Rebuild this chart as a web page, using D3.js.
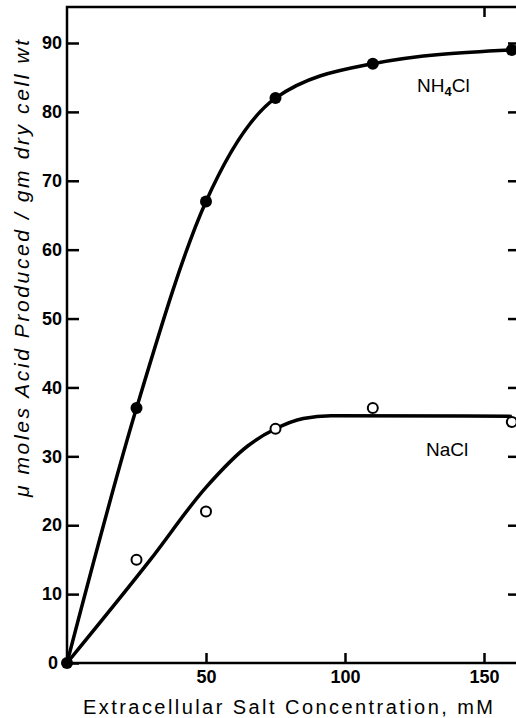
<!DOCTYPE html>
<html>
<head>
  <meta charset="utf-8">
  <title>Acid produced vs salt concentration</title>
  <style>
  body { margin: 0; background: #fff; }
  text { font-family: "Liberation Sans", "DejaVu Sans", sans-serif; fill: #000; }
  .tick text { font-weight: bold; font-size: 18px; font-family: "Liberation Sans", sans-serif; }
  .fit { fill: none; stroke: #000; stroke-width: 3.5; }
  </style>
</head>
<body>
  <div id="chart"></div>
  <script src="https://d3js.org/d3.v7.min.js"></script>
  <script>
    // measured points (x = mM, y = umoles acid / gm dry cell wt)
    var nh4clX = [0, 25, 50, 75, 110, 160];
    var nh4clY = [0, 37, 67, 82, 87, 89];
    var naclX = [0, 25, 50, 75, 110, 160];
    var naclY = [0, 15, 22, 34, 37, 35];

    // hand-drawn fit through the NaCl points
    var naclFitX = [0, 30, 50, 65, 75, 85, 95, 160];
    var naclFitY = [0, 15, 25.5, 31.5, 34, 35.5, 35.9, 35.8];

    var xTicks = [50, 100, 150];
    var yTicks = [0, 10, 20, 30, 40, 50, 60, 70, 80, 90];

    var width = 516, height = 718;

    var svg = d3.select("#chart").append("svg")
        .attr("width", width)
        .attr("height", height);

    var x = d3.scaleLinear().domain([0, 150]).range([67, 484]);
    var y = d3.scaleLinear().domain([0, 90]).range([663, 43]);

    var frameTop = 7, frameRight = 520;

    // frame
    svg.append("path")
        .attr("d", "M" + frameRight + "," + frameTop + "H" + x(0) + "V" + y(0) + "H" + frameRight)
        .attr("fill", "none")
        .attr("stroke", "#000")
        .attr("stroke-width", 2.5);

    // left axis, ticks point inward
    var gy = svg.append("g")
        .attr("transform", "translate(" + x(0) + ",0)")
        .call(d3.axisRight(y).tickValues(yTicks).tickSize(12).tickSizeOuter(0));
    gy.select(".domain").remove();
    gy.selectAll(".tick line").attr("stroke-width", 2.5);
    gy.selectAll(".tick text")
        .attr("x", -5)
        .attr("text-anchor", "end");
    gy.selectAll(".tick").filter(function(d) { return d === 0; })
        .select("text").attr("x", -9);

    // right side ticks
    var gr = svg.append("g")
        .attr("transform", "translate(" + frameRight + ",0)")
        .call(d3.axisLeft(y).tickValues(yTicks.slice(1)).tickSize(12).tickFormat(""));
    gr.select(".domain").remove();
    gr.selectAll(".tick line").attr("stroke-width", 2.5);

    // bottom axis, ticks pointing up
    var gx = svg.append("g")
        .attr("transform", "translate(0," + y(0) + ")")
        .call(d3.axisTop(x).tickValues(xTicks).tickSize(10));
    gx.select(".domain").remove();
    gx.selectAll(".tick line").attr("stroke-width", 2.5);
    gx.selectAll(".tick text")
        .attr("y", 20)
        .attr("dy", 0);

    // top tick at 150
    var gt = svg.append("g")
        .attr("transform", "translate(0," + frameTop + ")")
        .call(d3.axisBottom(x).tickValues([150]).tickSize(10).tickFormat(""));
    gt.select(".domain").remove();
    gt.selectAll(".tick line").attr("stroke-width", 2.5);

    var line = d3.line()
        .x(function(d) { return x(d[0]); })
        .y(function(d) { return y(d[1]); })
        .curve(d3.curveMonotoneX);

    var nh4cl = nh4clX.map(function(v, i) { return [v, nh4clY[i]]; });
    var nacl = naclX.map(function(v, i) { return [v, naclY[i]]; });
    var naclFit = naclFitX.map(function(v, i) { return [v, naclFitY[i]]; });

    svg.append("path").datum(nh4cl).attr("class", "fit").attr("d", line);
    svg.append("path").datum(naclFit).attr("class", "fit").attr("d", line);

    svg.selectAll(".nh4")
        .data(nh4cl)
      .enter().append("circle")
        .attr("class", "nh4")
        .attr("cx", function(d) { return x(d[0]); })
        .attr("cy", function(d) { return y(d[1]); })
        .attr("r", 6)
        .attr("fill", "#000");

    svg.selectAll(".na")
        .data(nacl.slice(1))
      .enter().append("circle")
        .attr("class", "na")
        .attr("cx", function(d) { return x(d[0]); })
        .attr("cy", function(d) { return y(d[1]); })
        .attr("r", 5)
        .attr("fill", "#fff")
        .attr("stroke", "#000")
        .attr("stroke-width", 2);

    // series labels
    var lab1 = svg.append("text")
        .attr("x", 417)
        .attr("y", 92)
        .attr("font-size", 19);
    lab1.append("tspan").text("NH");
    lab1.append("tspan").attr("font-size", 13).attr("font-weight", "bold").attr("dy", 4).text("4");
    lab1.append("tspan").attr("dy", -4).text("Cl");

    svg.append("text")
        .attr("x", 426)
        .attr("y", 456)
        .attr("font-size", 19)
        .text("NaCl");

    // axis titles
    svg.append("text")
        .attr("x", 83)
        .attr("y", 714)
        .attr("font-size", 20)
        .attr("textLength", 410)
        .attr("lengthAdjust", "spacing")
        .text("Extracellular Salt Concentration, mM");

    svg.append("text")
        .attr("transform", "translate(29,497) rotate(-90)")
        .attr("font-size", 21)
        .attr("font-style", "italic")
        .attr("textLength", 457)
        .attr("lengthAdjust", "spacing")
        .text("\u03bc moles Acid Produced / gm dry cell wt");
  </script>
</body>
</html>
